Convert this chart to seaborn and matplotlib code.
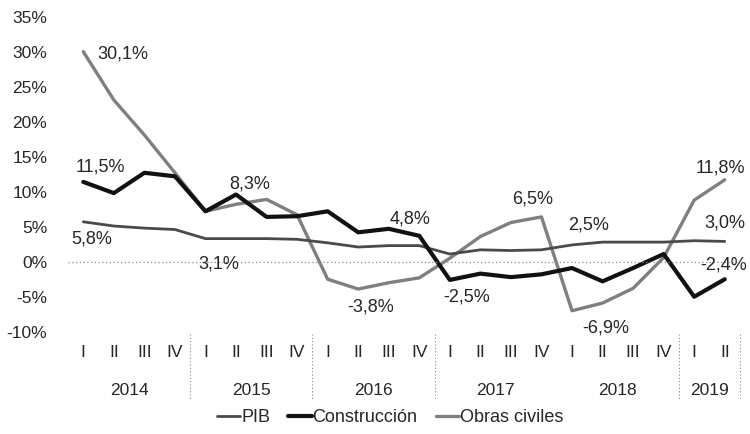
import seaborn as sns
import pandas as pd
import numpy as np
import matplotlib.pyplot as plt
from matplotlib.lines import Line2D

# quarters 2014 I .. 2019 II
quarters = ['I', 'II', 'III', 'IV'] * 5 + ['I', 'II']
years = ['2014', '2015', '2016', '2017', '2018', '2019']
year_sizes = [4, 4, 4, 4, 4, 2]

pib = [5.8, 5.2, 4.9, 4.7, 3.4, 3.4, 3.4, 3.3, 2.8, 2.2, 2.4, 2.4,
       1.2, 1.8, 1.7, 1.8, 2.5, 2.9, 2.9, 2.9, 3.1, 3.0]
construccion = [11.5, 9.9, 12.8, 12.3, 7.3, 9.7, 6.5, 6.6, 7.3, 4.3, 4.8, 3.8,
                -2.5, -1.6, -2.1, -1.7, -0.8, -2.7, -0.8, 1.2, -4.9, -2.4]
obras_civiles = [30.1, 23.2, 18.2, 12.8, 7.3, 8.3, 9.0, 6.8, -2.4, -3.8, -2.9, -2.2,
                 0.6, 3.7, 5.7, 6.5, -6.9, -5.8, -3.7, 0.7, 8.9, 11.8]

# label text, x position, y position
labels = [('30,1%', 1.3, 29.8), ('11,5%', 0.55, 13.6), ('5,8%', 0.28, 3.4),
          ('3,1%', 4.45, -0.2), ('8,3%', 5.45, 11.2), ('4,8%', 10.7, 6.2),
          ('-3,8%', 9.4, -6.4), ('-2,5%', 12.55, -4.9), ('6,5%', 14.7, 9.0),
          ('2,5%', 16.55, 5.4), ('-6,9%', 17.1, -9.4), ('11,8%', 20.85, 13.5),
          ('3,0%', 21.0, 5.7), ('-2,4%', 20.95, -0.4)]

df = pd.DataFrame({'idx': np.arange(len(quarters)), 'PIB': pib,
                   'Construcción': construccion, 'Obras civiles': obras_civiles})

sns.set_style('white')
plt.rcParams['font.family'] = ['Liberation Sans', 'DejaVu Sans']

fig = plt.figure(figsize=(7.5, 4.34), dpi=100)
ax = fig.add_axes([0.0907, 0.234, 0.896, 0.726])

styles = {'PIB': ('#4a4a4a', 2.0), 'Construcción': ('#111111', 3.0),
          'Obras civiles': ('#7f7f7f', 2.4)}
for name in ['Obras civiles', 'PIB', 'Construcción']:
    c, lw = styles[name]
    sns.lineplot(data=df, x='idx', y=name, ax=ax, color=c, lw=lw)

ax.axhline(0, color='#888888', lw=0.9, ls=(0, (1, 2)))

ax.set_xlim(-0.5, 21.5)
ax.set_ylim(-10, 35)
ax.set_yticks(range(-10, 36, 5))
ax.set_yticklabels([f'{v}%' for v in range(-10, 36, 5)], fontsize=12.5)
ax.set_xticks(range(len(quarters)))
ax.set_xticklabels([])
ax.tick_params(length=0, axis='y', pad=15)
ax.tick_params(length=0, axis='x')
ax.set_xlabel('')
ax.set_ylabel('')
for s in ax.spines.values():
    s.set_visible(False)

trans = ax.get_xaxis_transform()
for i, q in enumerate(quarters):
    ax.text(i, -0.065, q, transform=trans, ha='center', va='center', fontsize=12.5)

start = 0
for y, n in zip(years, year_sizes):
    ax.text(start + (n - 1) / 2, -0.183, y, transform=trans, ha='center',
            va='center', fontsize=12.5)
    start += n

for xs in [3.5, 7.5, 11.5, 19.5, 21.5]:
    ax.plot([xs, xs], [-0.005, -0.21], transform=trans, color='#888888',
            lw=0.8, ls=(0, (1, 2)), clip_on=False)

for t, x, y in labels:
    ax.text(x, y, t, ha='center', va='center', fontsize=13)

handles = [Line2D([], [], color=styles[n][0], lw=styles[n][1])
           for n in ['PIB', 'Construcción', 'Obras civiles']]
fig.legend(handles, ['PIB', 'Construcción', 'Obras civiles'], loc='center',
           bbox_to_anchor=(0.52, 0.037), ncol=3, frameon=False, fontsize=13,
           handlelength=1.3, handletextpad=0.05, columnspacing=1.0)

fig.savefig('out.png', dpi=100)
